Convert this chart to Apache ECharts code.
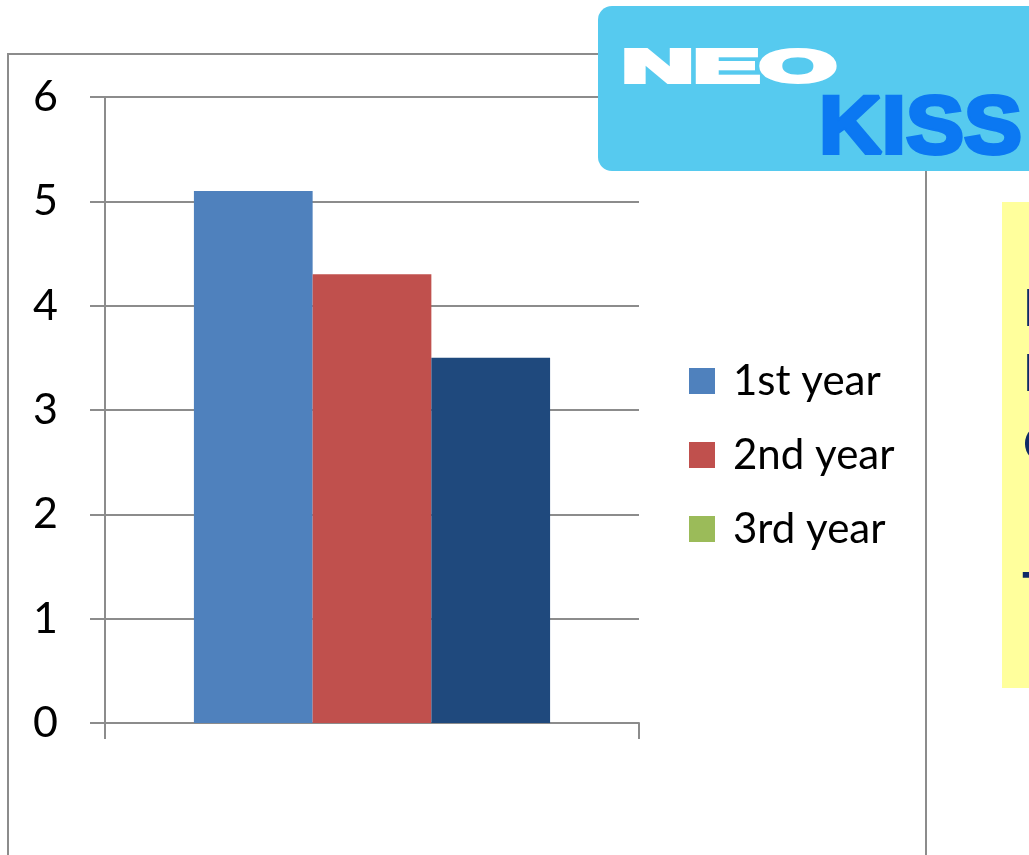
<!DOCTYPE html>
<html>
<head>
<meta charset="utf-8">
<script src="https://cdn.jsdelivr.net/npm/echarts@6/dist/echarts.min.js"></script>
<style>
  html, body { margin: 0; padding: 0; background: #ffffff; }
  #chart { width: 1029px; height: 855px; }
</style>
</head>
<body>
<div id="chart"></div>
<script>
// ---- data ----
const categories = [''];
const seriesNames = ['1st year', '2nd year', '3rd year'];
const seriesValues = [5.1, 4.3, 3.5];
const yMin = 0, yMax = 6, yStep = 1;

// side panel text (clipped at the page edge)
const panelLines = ['Evaluation', 'NEO KISS', 'Outcomes'];
const panelNote = 'Teachers';

// ---- styles ----
const legendColors = ['#4F81BD', '#C0504D', '#9BBB59'];
const barColors = ['#4F81BD', '#C0504D', '#1F497D'];
const lineGray = '#8c8c8c';
const textFont = 'Lato';

const chart = echarts.init(document.getElementById('chart'), null, { renderer: 'canvas' });

const series = seriesNames.map((name, i) => ({
  name: name,
  type: 'bar',
  barGap: 0,
  barCategoryGap: '33.3%',
  itemStyle: { color: legendColors[i] },
  data: [{ value: seriesValues[i], itemStyle: { color: barColors[i] } }],
  z: 2
}));

const option = {
  animation: false,
  backgroundColor: '#ffffff',
  grid: { left: 105, right: 390, top: 97, bottom: 132, containLabel: false },
  xAxis: {
    type: 'category',
    data: categories,
    boundaryGap: true,
    axisLine: { show: true, lineStyle: { color: lineGray, width: 2 } },
    axisTick: { show: true, length: 16, alignWithLabel: false, lineStyle: { color: lineGray, width: 2 } },
    axisLabel: { show: false },
    splitLine: { show: false }
  },
  yAxis: {
    type: 'value',
    min: yMin, max: yMax, interval: yStep,
    axisLine: { show: true, lineStyle: { color: lineGray, width: 2 } },
    axisTick: { show: true, length: 15, lineStyle: { color: lineGray, width: 2 } },
    axisLabel: { show: true, margin: 47, color: '#000000', fontFamily: textFont, fontSize: 43 },
    splitLine: { show: true, lineStyle: { color: lineGray, width: 2 } }
  },
  legend: {
    orient: 'vertical',
    left: 689,
    top: 359,
    padding: 0,
    itemWidth: 26,
    itemHeight: 26,
    itemGap: 30,
    icon: 'rect',
    data: seriesNames,
    textStyle: {
      color: '#000000', fontFamily: textFont, fontSize: 42, lineHeight: 44,
      padding: [0, 0, 0, 13]
    }
  },
  series: series,
  graphic: [
    // chart frame
    {
      type: 'rect', z: 0, silent: true,
      shape: { x: 8, y: 54, width: 918, height: 900 },
      style: { fill: 'none', stroke: lineGray, lineWidth: 2 }
    },
    // logo panel
    {
      type: 'rect', z: 10, silent: true,
      shape: { x: 598, y: 6, width: 470, height: 165, r: 14 },
      style: { fill: '#56CAEF' }
    },
    {
      type: 'text', z: 11, silent: true,
      x: 622, y: 69, scaleX: 2.15,
      style: {
        x: 0, y: 0, text: 'NEO', fill: '#ffffff', stroke: '#ffffff', lineWidth: 4, lineJoin: 'miter',
        font: 'bold 46px "Liberation Sans"', verticalAlign: 'middle', align: 'left'
      }
    },
    {
      type: 'text', z: 11, silent: true,
      x: 819, y: 130, scaleX: 1.06,
      style: {
        x: 0, y: 0, text: 'KISS', fill: '#0B78F2', stroke: '#0B78F2', lineWidth: 4, lineJoin: 'miter',
        font: 'bold 82px "Liberation Sans"', verticalAlign: 'middle', align: 'left'
      }
    },
    // yellow note panel
    {
      type: 'rect', z: 10, silent: true,
      shape: { x: 1002, y: 202, width: 100, height: 486 },
      style: { fill: '#FFFF9C' }
    },
    {
      type: 'text', z: 11, silent: true,
      x: 1023, y: 309,
      style: { text: panelLines[0], fill: '#0F2A66', font: 'bold 52px ' + textFont, verticalAlign: 'middle' }
    },
    {
      type: 'text', z: 11, silent: true,
      x: 1023, y: 374,
      style: { text: panelLines[1], fill: '#0F2A66', font: 'bold 52px ' + textFont, verticalAlign: 'middle' }
    },
    {
      type: 'text', z: 11, silent: true,
      x: 1023, y: 445,
      style: { text: panelLines[2], fill: '#0F2A66', font: 'bold 52px ' + textFont, verticalAlign: 'middle' }
    },
    {
      type: 'text', z: 11, silent: true,
      x: 1022, y: 592,
      style: { text: panelNote, fill: '#0F2A66', font: 'bold 52px ' + textFont, verticalAlign: 'middle' }
    }
  ]
};

chart.setOption(option);
</script>
</body>
</html>
